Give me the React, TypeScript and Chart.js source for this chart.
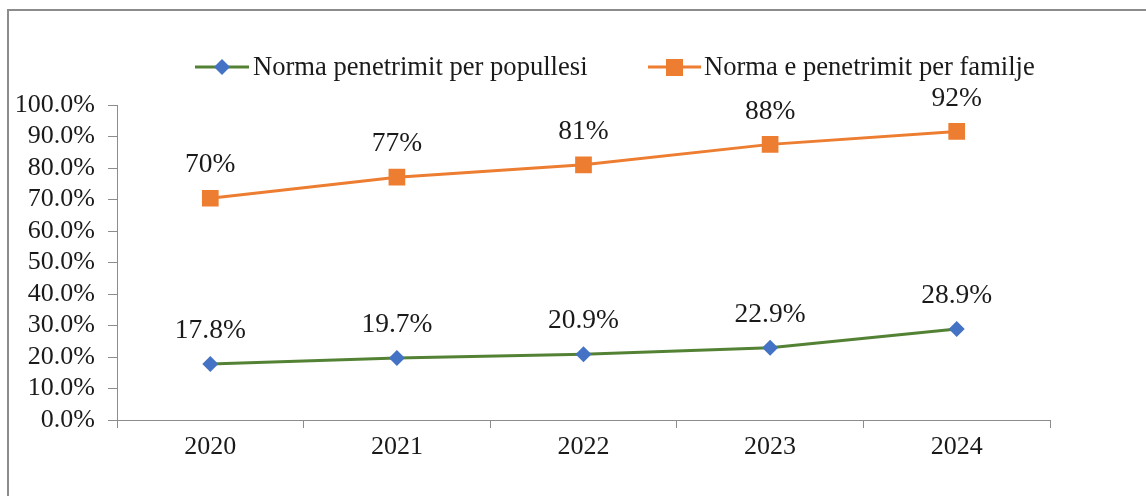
import React, { useEffect, useRef } from "react";
import { Chart, registerables } from "chart.js";

Chart.register(...registerables);

const years = ["2020", "2021", "2022", "2023", "2024"];
const populationRate = [17.8, 19.7, 20.9, 22.9, 28.9];
const familyRate = [70.4, 77.1, 81.0, 87.5, 91.6];
const populationLabel = "Norma penetrimit per popullesi";
const familyLabel = "Norma e penetrimit per familje";

const GREEN = "#548235";
const BLUE = "#4472C4";
const ORANGE = "#ED7D31";
const AXIS = "#8c8c8c";
const FONT = "'Liberation Serif', 'Times New Roman', serif";

const dataLabelPlugin = {
  id: "dataLabels",
  afterDatasetsDraw(chart: any) {
    const ctx = chart.ctx;
    ctx.save();
    ctx.font = `27.5px ${FONT}`;
    ctx.fillStyle = "#1a1a1a";
    ctx.textAlign = "center";
    ctx.textBaseline = "middle";
    chart.data.datasets.forEach((ds: any, di: number) => {
      const meta = chart.getDatasetMeta(di);
      meta.data.forEach((pt: any, i: number) => {
        const v = ds.data[i];
        const txt = di === 0 ? v.toFixed(1) + "%" : Math.round(v) + "%";
        ctx.fillText(txt, pt.x, pt.y - 33);
      });
    });
    ctx.restore();
  },
};

const legendPlugin = {
  id: "customLegend",
  afterDraw(chart: any) {
    const ctx = chart.ctx;
    ctx.save();
    const y = 67;
    ctx.strokeStyle = GREEN;
    ctx.lineWidth = 3;
    ctx.beginPath();
    ctx.moveTo(195, y);
    ctx.lineTo(249, y);
    ctx.stroke();
    ctx.fillStyle = BLUE;
    ctx.beginPath();
    ctx.moveTo(222, y - 8);
    ctx.lineTo(230, y);
    ctx.lineTo(222, y + 8);
    ctx.lineTo(214, y);
    ctx.closePath();
    ctx.fill();
    ctx.strokeStyle = ORANGE;
    ctx.beginPath();
    ctx.moveTo(648, y);
    ctx.lineTo(701, y);
    ctx.stroke();
    ctx.fillStyle = ORANGE;
    ctx.fillRect(666, y - 8, 17, 17);
    ctx.font = `26.6px ${FONT}`;
    ctx.fillStyle = "#1a1a1a";
    ctx.textAlign = "left";
    ctx.textBaseline = "middle";
    ctx.fillText(populationLabel, 253, y + 1);
    ctx.fillText(familyLabel, 704, y + 1);
    ctx.restore();
  },
};

export default function App() {
  const ref = useRef<HTMLCanvasElement>(null);
  useEffect(() => {
    if (!ref.current) return;
    const chart = new Chart(ref.current, {
      type: "line",
      data: {
        labels: years,
        datasets: [
          {
            label: populationLabel,
            data: populationRate,
            borderColor: GREEN,
            backgroundColor: BLUE,
            borderWidth: 3,
            pointStyle: "rectRot",
            pointRadius: 8,
            pointBorderWidth: 0,
            pointBackgroundColor: BLUE,
            tension: 0,
          },
          {
            label: familyLabel,
            data: familyRate,
            borderColor: ORANGE,
            backgroundColor: ORANGE,
            borderWidth: 3,
            pointStyle: "rect",
            pointRadius: 11.8,
            pointBorderWidth: 0,
            pointBackgroundColor: ORANGE,
            tension: 0,
          },
        ],
      },
      options: {
        animation: false,
        responsive: false,
        maintainAspectRatio: false,
        layout: { padding: { left: 7, top: 105, right: 96, bottom: 0 } },
        plugins: {
          legend: { display: false },
          tooltip: { enabled: false },
        },
        scales: {
          x: {
            offset: true,
            grid: {
              offset: true,
              drawOnChartArea: false,
              drawTicks: true,
              tickLength: 8,
              color: AXIS,
            },
            border: { display: true, color: AXIS, width: 1 },
            ticks: {
              color: "#1a1a1a",
              font: { family: FONT, size: 26 },
              padding: 4,
              maxRotation: 0,
              autoSkip: false,
            },
            afterFit(scale: any) {
              scale.height = 76;
            },
          },
          y: {
            min: 0,
            max: 100,
            grid: {
              drawOnChartArea: false,
              drawTicks: true,
              tickLength: 9,
              color: AXIS,
            },
            border: { display: true, color: AXIS, width: 1 },
            ticks: {
              stepSize: 10,
              autoSkip: false,
              color: "#1a1a1a",
              font: { family: FONT, size: 26 },
              padding: 13,
              callback: (v: any) => Number(v).toFixed(1) + "%",
            },
            afterFit(scale: any) {
              scale.width = 110;
            },
          },
        },
      },
      plugins: [dataLabelPlugin, legendPlugin],
    });
    return () => chart.destroy();
  }, []);

  return (
    <div style={{ position: "absolute", left: 0, top: 0, width: 1146, height: 496, background: "#fff", overflow: "hidden" }}>
      <div
        style={{
          position: "absolute",
          left: 7,
          top: 9,
          width: 1200,
          height: 600,
          borderLeft: `2px solid ${AXIS}`,
          borderTop: `2px solid ${AXIS}`,
          boxSizing: "border-box",
        }}
      />
      <canvas ref={ref} width={1146} height={496} style={{ position: "absolute", left: 0, top: 0 }} />
    </div>
  );
}
